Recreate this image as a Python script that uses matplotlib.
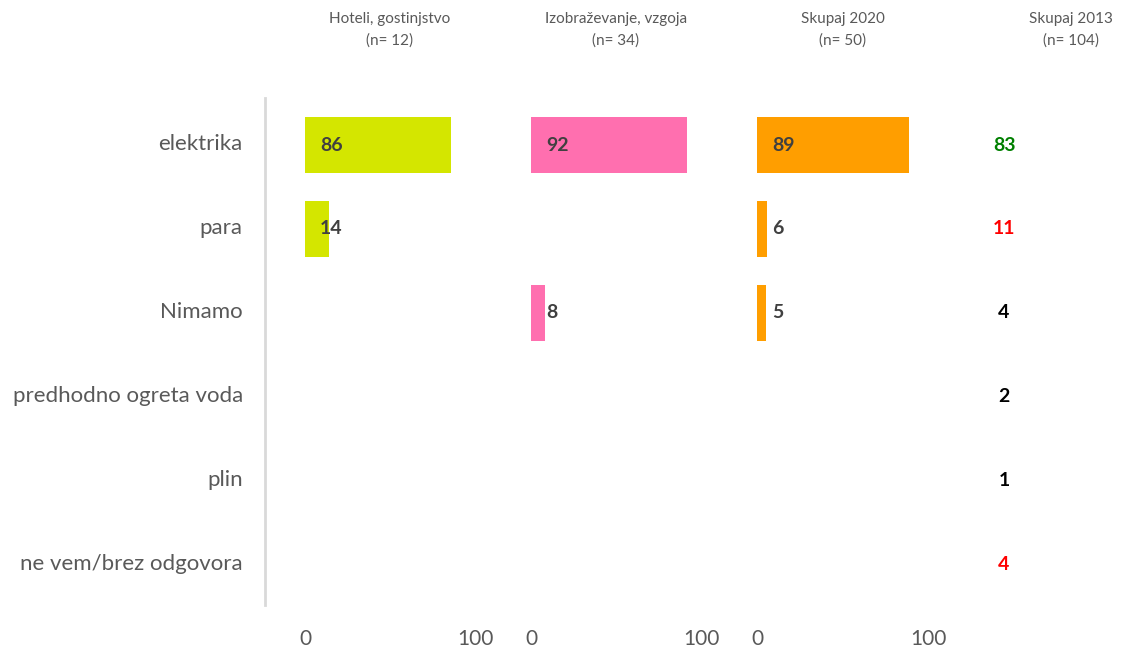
import matplotlib.pyplot as plt
from matplotlib.transforms import blended_transform_factory, ScaledTranslation

categories = ["elektrika", "para", "Nimamo", "predhodno ogreta voda", "plin", "ne vem/brez odgovora"]
panel_titles = ["Hoteli, gostinjstvo\n(n= 12)", "Izobraževanje, vzgoja\n(n= 34)", "Skupaj 2020\n(n= 50)"]
hoteli = [86, 14, None, None, None, None]
izobrazevanje = [92, None, 8, None, None, None]
skupaj_2020 = [89, 6, 5, None, None, None]
skupaj_2013 = [83, 11, 4, 2, 1, 4]
colors_2013 = ["#008000", "#FF0000", "#000000", "#000000", "#000000", "#FF0000"]
bar_colors = ["#D4E600", "#FF6FAF", "#FF9E00"]

plt.rcParams['font.family'] = ['Lato', 'DejaVu Sans']

W, H = 1124, 647
fig = plt.figure(figsize=(W / 100, H / 100), dpi=100)

y_top, y_bot = 98, 605
ylim = (5.48, -0.56)

def px_axes(x0, x1):
    return fig.add_axes([x0 / W, (H - y_bot) / H, (x1 - x0) / W, (y_bot - y_top) / H])

# label axis with the grey vertical line
lab = px_axes(265, 266)
lab.set_ylim(*ylim)
lab.set_yticks(range(len(categories)))
lab.set_yticklabels(categories, fontsize=16, color="#595959")
lab.tick_params(axis="y", length=0, pad=16)
shift = ScaledTranslation(0, 3 / 100, fig.dpi_scale_trans)
for t in lab.get_yticklabels():
    t.set_transform(t.get_transform() + shift)
lab.set_xticks([])
for s in ["top", "right", "bottom"]:
    lab.spines[s].set_visible(False)
lab.spines["left"].set_color("#D9D9D9")
lab.spines["left"].set_linewidth(2)
lab.patch.set_visible(False)

panels = [(305, 475), (531, 701), (757, 928)]
series = [hoteli, izobrazevanje, skupaj_2020]

for (x0, x1), vals, col, title in zip(panels, series, bar_colors, panel_titles):
    ax = px_axes(x0, x1)
    ax.set_xlim(0, 100)
    ax.set_ylim(*ylim)
    for i, v in enumerate(vals):
        if v is None:
            continue
        ax.barh(i, v, height=0.67, color=col)
        ax.annotate(str(v), (0, i), xytext=(15, 0), textcoords="offset pixels",
                    ha="left", va="center", fontsize=14, fontweight="bold", color="#404040")
    ax.set_xticks([0, 100])
    ax.set_xticklabels(["0", "100"], fontsize=15, color="#595959")
    ax.tick_params(axis="x", length=0, pad=17)
    ax.set_yticks([])
    for s in ax.spines.values():
        s.set_visible(False)
    ax.patch.set_visible(False)
    fig.text((x0 + x1) / 2 / W, 1 - 30 / H, title, ha="center", va="center",
             fontsize=11, color="#595959", linespacing=1.6)

fig.text(1071 / W, 1 - 30 / H, "Skupaj 2013\n(n= 104)", ha="center", va="center",
         fontsize=11, color="#595959", linespacing=1.6)

tr = blended_transform_factory(fig.transFigure, lab.transData)
for i, (v, c) in enumerate(zip(skupaj_2013, colors_2013)):
    lab.text(1004 / W, i, str(v), transform=tr, ha="center", va="center",
             fontsize=14, fontweight="bold", color=c, clip_on=False)

fig.savefig("out.png", dpi=100)
